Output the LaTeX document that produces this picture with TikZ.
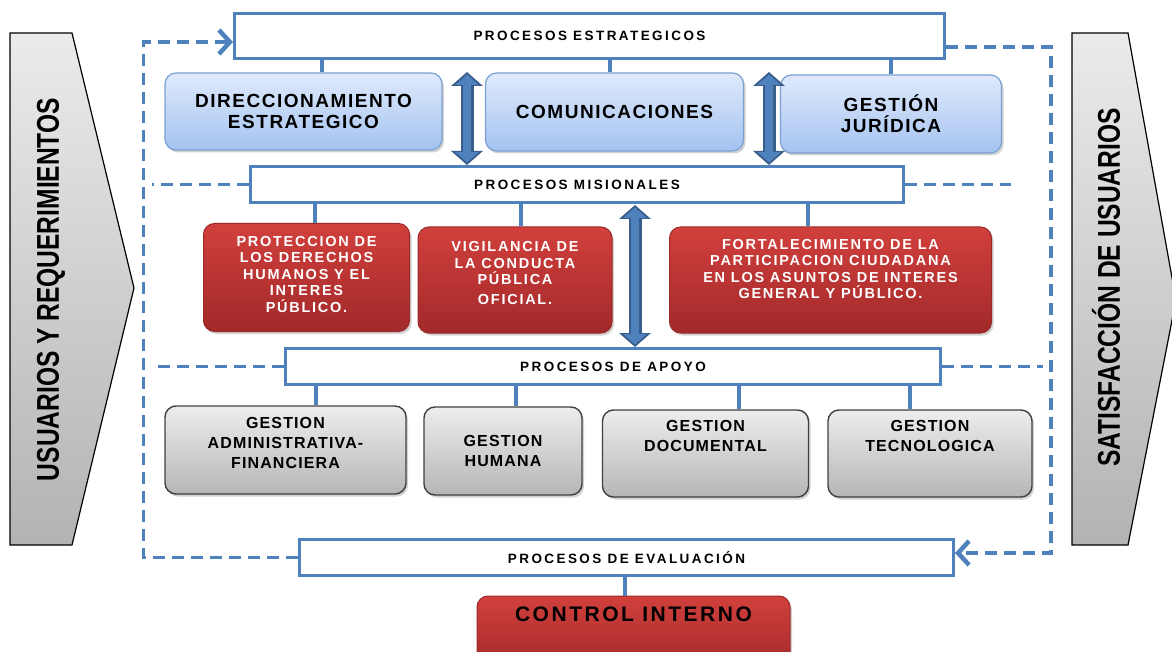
\documentclass[tikz,border=0pt]{standalone}
\usepackage{fontspec}
\setmainfont{Liberation Sans}
\newfontfamily\bandfont[LetterSpace=18]{Liberation Sans}
\newfontfamily\boxfont[LetterSpace=8]{Liberation Sans}
\newfontfamily\redfont[LetterSpace=12]{Liberation Sans}
\newfontfamily\grayfont[LetterSpace=7]{Liberation Sans}
\newfontfamily\sidefont{Liberation Sans}
\usetikzlibrary{arrows.meta}
\usetikzlibrary{shadows}
\definecolor{lineblue}{HTML}{4F81BD}
\definecolor{arrowdark}{HTML}{385D8A}
\definecolor{bluetop}{HTML}{DFEAFB}
\definecolor{bluebot}{HTML}{A4C3F1}
\definecolor{blueedge}{HTML}{7BA0D2}
\definecolor{redtop}{HTML}{D1403C}
\definecolor{redbot}{HTML}{A2292A}
\definecolor{rededge}{HTML}{9A2A2A}
\definecolor{graytop}{HTML}{EDEDED}
\definecolor{graybot}{HTML}{B6B6B6}
\definecolor{grayedge}{HTML}{404040}
\definecolor{sidetop}{HTML}{EBEBEB}
\definecolor{sidebot}{HTML}{B3B3B3}

\begin{document}
\begin{tikzpicture}[x=1pt, y=-1pt]
	\tikzstyle{band}=[draw=lineblue, line width=3pt, fill=white, inner sep=0pt, minimum height=36pt, font=\bandfont\bfseries\fontsize{13.5}{16}\selectfont]
	\tikzstyle{card}=[rounded corners=11pt, inner sep=2pt, align=center, drop shadow={opacity=0.35, shadow xshift=2pt, shadow yshift=-2.5pt}]
	\tikzstyle{bluebox}=[card, draw=blueedge, line width=1.2pt, top color=bluetop, bottom color=bluebot, text=black, font=\boxfont\bfseries\fontsize{19}{21}\selectfont]
	\tikzstyle{redbox}=[card, draw=rededge, line width=1pt, top color=redtop, bottom color=redbot, text=white, font=\redfont\bfseries\fontsize{14.5}{16.5}\selectfont]
	\tikzstyle{graybox}=[card, draw=grayedge, line width=1.4pt, top color=graytop, bottom color=graybot, text=black, font=\grayfont\bfseries\fontsize{16}{20}\selectfont]
	\tikzstyle{sidearrow}=[draw=black, line width=1.2pt, top color=sidetop, bottom color=sidebot]
	\tikzstyle{sidetext}=[rotate=90, inner sep=0pt, font=\sidefont\bfseries\fontsize{31.5}{34}\selectfont]
	\tikzstyle{tie}=[draw=lineblue, line width=4pt]
	\tikzstyle{dashline}=[draw=lineblue, line width=3.5pt, dash pattern=on 12pt off 7pt]
	\tikzstyle{barb}=[-{Straight Barb[length=11pt,width=24pt,line width=4.5pt]}]
	\tikzstyle{bigarrow}=[draw=arrowdark, line width=13pt, {Triangle[length=14pt,width=31pt]}-{Triangle[length=14pt,width=31pt]}, postaction={draw=lineblue, line width=8pt, shorten <=2.5pt, shorten >=2.5pt, {Triangle[length=10.5pt,width=23pt]}-{Triangle[length=10.5pt,width=23pt]}}]

	\useasboundingbox (0,0) rectangle (1172,652);

	% Draw side arrows
	\draw[sidearrow] (10,33) -- (72,33) -- (134,288) -- (72,545) -- (10,545) -- cycle;
	\draw[sidearrow] (1072,33) -- (1128,33) -- (1176,300) -- (1128,545) -- (1072,545) -- cycle;
	\node[sidetext] (users) at (51,289.5) {\scalebox{0.78}[1]{USUARIOS Y REQUERIMIENTOS}};
	\node[sidetext] (satis) at (1106,287.5) {\scalebox{0.78}[1]{SATISFACCIÓN DE USUARIOS}};

	% Draw process bands
	\node[band, minimum width=710pt, minimum height=45pt] (estr) at (589.5,36) {PROCESOS ESTRATEGICOS};
	\node[band, minimum width=653pt] (mis) at (577,184.5) {PROCESOS MISIONALES};
	\node[band, minimum width=655pt] (apoyo) at (613,366.5) {PROCESOS DE APOYO};
	\node[band, minimum width=654pt] (eval) at (626.5,557.5) {PROCESOS DE EVALUACIÓN};

	% Draw process boxes
	\node[bluebox, minimum width=277pt, minimum height=77pt] (dir) at (303.5,111.5) {DIRECCIONAMIENTO\\ESTRATEGICO};
	\node[bluebox, minimum width=258pt, minimum height=78pt] (com) at (614.5,112) {COMUNICACIONES};
	\node[bluebox, minimum width=221pt, minimum height=78pt] (jur) at (891,114) {GESTIÓN\\JURÍDICA};

	\node[redbox, minimum width=206pt, minimum height=108pt, text depth=7pt] (prot) at (306.5,277.5) {PROTECCION DE\\LOS DERECHOS\\HUMANOS Y EL\\INTERES\\PÚBLICO.};
	\node[redbox, minimum width=194pt, minimum height=106pt, text depth=14pt] (vig) at (515,280) {VIGILANCIA DE\\LA CONDUCTA\\PÚBLICA\\[3pt]OFICIAL.};
	\node[redbox, minimum width=322pt, minimum height=106pt, text depth=22pt] (fort) at (830.5,280) {FORTALECIMIENTO DE LA\\PARTICIPACION CIUDADANA\\EN LOS ASUNTOS DE INTERES\\GENERAL Y PÚBLICO.};

	\node[graybox, minimum width=241pt, minimum height=88pt, text depth=14pt] (adm) at (285.5,450) {GESTION\\ADMINISTRATIVA-\\FINANCIERA};
	\node[graybox, minimum width=158pt, minimum height=88pt] (hum) at (503,451) {GESTION\\HUMANA};
	\node[graybox, minimum width=206pt, minimum height=87pt, text depth=36pt] (doc) at (705.5,453.5) {GESTION\\DOCUMENTAL};
	\node[graybox, minimum width=204pt, minimum height=87pt, text depth=36pt] (tec) at (930,453.5) {GESTION\\TECNOLOGICA};

	\node[redbox, text=black, font=\redfont\bfseries\fontsize{21}{24}\selectfont, minimum width=313pt, minimum height=74pt, text depth=37pt] (ctrl) at (633.5,633) {CONTROL INTERNO};

	% Draw ties
	\path[tie] ([xshift=18.5pt]dir.north) edge ([xshift=18.5pt]dir.north |- estr.south);
	\path[tie] ([xshift=-5pt]com.north) edge ([xshift=-5pt]com.north |- estr.south);
	\path[tie] (jur.north) edge (jur.north |- estr.south);
	\path[tie] ([xshift=8pt]prot.north) edge ([xshift=8pt]prot.north |- mis.south);
	\path[tie] ([xshift=5.5pt]vig.north) edge ([xshift=5.5pt]vig.north |- mis.south);
	\path[tie] ([xshift=-22.5pt]fort.north) edge ([xshift=-22.5pt]fort.north |- mis.south);
	\path[tie] ([xshift=30pt]adm.north) edge ([xshift=30pt]adm.north |- apoyo.south);
	\path[tie] ([xshift=13pt]hum.north) edge ([xshift=13pt]hum.north |- apoyo.south);
	\path[tie] ([xshift=33pt]doc.north) edge ([xshift=33pt]doc.north |- apoyo.south);
	\path[tie] ([xshift=-20.5pt]tec.north) edge ([xshift=-20.5pt]tec.north |- apoyo.south);
	\path[tie] ([xshift=-8.5pt]ctrl.north) edge ([xshift=-8.5pt]ctrl.north |- eval.south);

	% Draw big arrows
	\coordinate (a1) at (467,72);
	\coordinate (a2) at (769,72);
	\coordinate (a3) at (635,205);
	\draw[bigarrow] (a1) -- (mis.north -| a1);
	\draw[bigarrow] (a2) -- (mis.north -| a2);
	\draw[bigarrow] (a3) -- (apoyo.north -| a3);

	% Draw dashed loops
	\coordinate (lc) at (143.5,42);
	\coordinate (rc) at (1051,47);
	\draw[dashline, barb] (eval.west) -| (lc) -- (estr.west |- lc);
	\draw[dashline, barb] (estr.east |- rc) -- (rc) |- ([yshift=4.5pt]eval.east);
	\draw[dashline] (mis.west) -- ([xshift=8pt]lc |- mis.west);
	\draw[dashline] (mis.east) -- ([xshift=106pt]mis.east);
	\draw[dashline] (apoyo.west) -- ([xshift=8pt]lc |- apoyo.west);
	\draw[dashline] (apoyo.east) -- ([xshift=-8pt]rc |- apoyo.east);

\end{tikzpicture}
\end{document}
